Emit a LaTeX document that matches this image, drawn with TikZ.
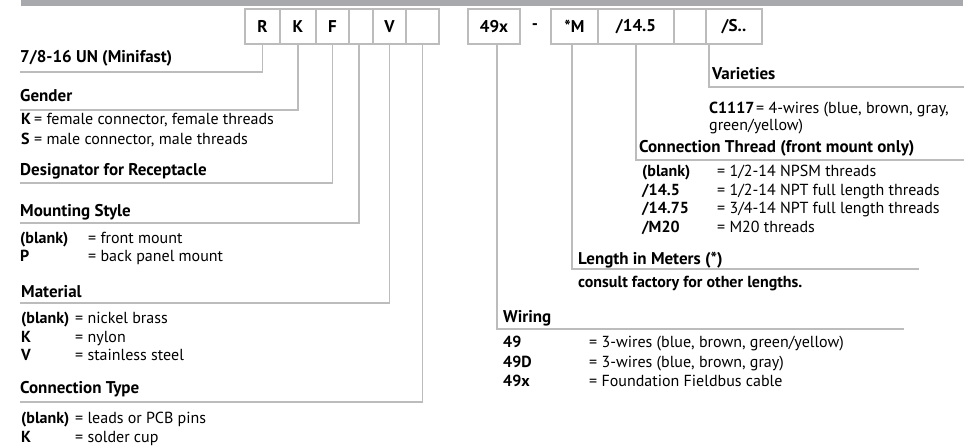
\documentclass[tikz,border=0pt]{standalone}
\usepackage{fontspec}
\setmainfont{PT Sans}
\definecolor{linec}{RGB}{188,188,188}
\definecolor{barc}{RGB}{167,169,172}
\begin{document}
\begin{tikzpicture}[x=1pt,y=-1pt,
  lbl/.style={anchor=base west, inner sep=0pt, font=\fontsize{16}{18}\selectfont},
  lblb/.style={anchor=base west, inner sep=0pt, font=\fontsize{16}{18}\selectfont\bfseries},
  hd/.style={anchor=base west, inner sep=0pt, font=\fontsize{17}{20}\selectfont\bfseries},
  codebox/.style={draw=linec, line width=1.2pt, minimum height=35pt, inner sep=0pt, font=\fontsize{17}{20}\selectfont\bfseries},
  conn/.style={draw=linec, line width=1.2pt}]
\useasboundingbox (0,0) rectangle (973,446);
\fill[barc] (21,0) rectangle (963,6);
% code boxes
\node[codebox, minimum width=35pt] (bR)  at (262.5,26.5) {R};
\node[codebox, minimum width=36pt] (bK)  at (298,26.5) {K};
\node[codebox, minimum width=33pt] (bF)  at (332.5,26.5) {F};
\node[codebox, minimum width=24pt] (bB1) at (361,26.5) {};
\node[codebox, minimum width=33pt] (bV)  at (389.5,26.5) {V};
\node[codebox, minimum width=33pt] (bB2) at (422.5,26.5) {};
\node[codebox, minimum width=52pt] (bW)  at (494,26.5) {49x};
\node[inner sep=0pt, font=\fontsize{17}{20}\selectfont\bfseries] (dash) at (535,26.5) {-};
\node[codebox, minimum width=47pt] (bM)  at (574.5,26.5) {*M};
\node[codebox, minimum width=76pt] (bT)  at (636,26.5) {/14.5};
\node[codebox, minimum width=32pt] (bB3) at (690,26.5) {};
\node[codebox, minimum width=56pt] (bS)  at (734,26.5) {/S..};
% corner coordinates
\coordinate (eR) at (20,72);
\coordinate (eK) at (20,110);
\coordinate (eF) at (20,183);
\coordinate (eB1c) at (359,223);
\coordinate (eB1) at (20,223);
\coordinate (eV) at (20,303);
\coordinate (eB2) at (20,402);
\coordinate (cW) at (497,329);
\coordinate (eW) at (904,329);
\coordinate (cM) at (572,269);
\coordinate (eM) at (919,269);
\coordinate (eT) at (964,160);
\coordinate (cS) at (709,87);
\coordinate (eS) at (964,87);
% connectors
\draw[conn] (bR.south) |- (eR);
\draw[conn] (bK.south) |- (eK);
\draw[conn] (bF.south) |- (eF);
\draw[conn] (bB1.south -| eB1c) |- (eB1);
\draw[conn] (bV.south) |- (eV);
\draw[conn] (bB2.south) |- (eB2);
\draw[conn] (bW.south -| cW) |- (eW);
\draw[conn] (bM.south -| cM) |- (eM);
\draw[conn] (bT.south) |- (eT);
\draw[conn] (bS.south -| cS) |- (eS);
% left headings
\node[hd] (h1) at (20,63) {7/8-16 UN (Minifast)};
\node[hd] (h2) at (20,102) {Gender};
\node[lblb] (g1) at (21,125) {K};
\node[lbl] (g1v) at (34,125) {= female connector, female threads};
\node[lblb] (g2) at (21,145) {S};
\node[lbl] (g2v) at (34,145) {= male connector, male threads};
\node[hd] (h3) at (20,176) {Designator for Receptacle};
\node[hd] (h4) at (20,216) {Mounting Style};
\node[lblb] (m1) at (20,243) {(blank)};
\node[lbl] (m1v) at (88,243) {= front mount};
\node[lblb] (m2) at (20,261) {P};
\node[lbl] (m2v) at (88,261) {= back panel mount};
\node[hd] (h5) at (21,297) {Material};
\node[lblb] (a1) at (21,323) {(blank)};
\node[lbl] (a1v) at (75,323) {= nickel brass};
\node[lblb] (a2) at (21,342) {K};
\node[lbl] (a2v) at (75,342) {= nylon};
\node[lblb] (a3) at (21,360) {V};
\node[lbl] (a3v) at (75,360) {= stainless steel};
\node[hd] (h6) at (20,393) {Connection Type};
\node[lblb] (c1) at (21,423) {(blank)};
\node[lbl] (c1v) at (75,423) {= leads or PCB pins};
\node[lblb] (c2) at (21,442) {K};
\node[lbl] (c2v) at (75,442) {= solder cup};
% right headings
\node[hd] (h7) at (712,80) {Varieties};
\node[lblb] (v1) at (709,114) {C1117};
\node[lbl] (v1v) at (756,114) {= 4-wires (blue, brown, gray,};
\node[lbl] (v2) at (709,131) {green/yellow)};
\node[hd] (h8) at (639,153) {Connection Thread (front mount only)};
\node[lblb] (t1) at (642,177) {(blank)};
\node[lbl] (t1v) at (717,177) {= 1/2-14 NPSM threads};
\node[lblb] (t2) at (642,196) {/14.5};
\node[lbl] (t2v) at (717,196) {= 1/2-14 NPT full length threads};
\node[lblb] (t3) at (642,214) {/14.75};
\node[lbl] (t3v) at (717,214) {= 3/4-14 NPT full length threads};
\node[lblb] (t4) at (642,233) {/M20};
\node[lbl] (t4v) at (717,233) {= M20 threads};
\node[hd] (h9) at (578,264) {Length in Meters (*)};
\node[lblb] (l1) at (578,287) {consult factory for other lengths.};
\node[hd] (h10) at (503,322) {Wiring};
\node[lblb] (w1) at (503,347) {49};
\node[lbl] (w1v) at (589,347) {= 3-wires (blue, brown, green/yellow)};
\node[lblb] (w2) at (503,367) {49D};
\node[lbl] (w2v) at (589,367) {= 3-wires (blue, brown, gray)};
\node[lblb] (w3) at (503,386) {49x};
\node[lbl] (w3v) at (589,386) {= Foundation Fieldbus cable};
\end{tikzpicture}
\end{document}
